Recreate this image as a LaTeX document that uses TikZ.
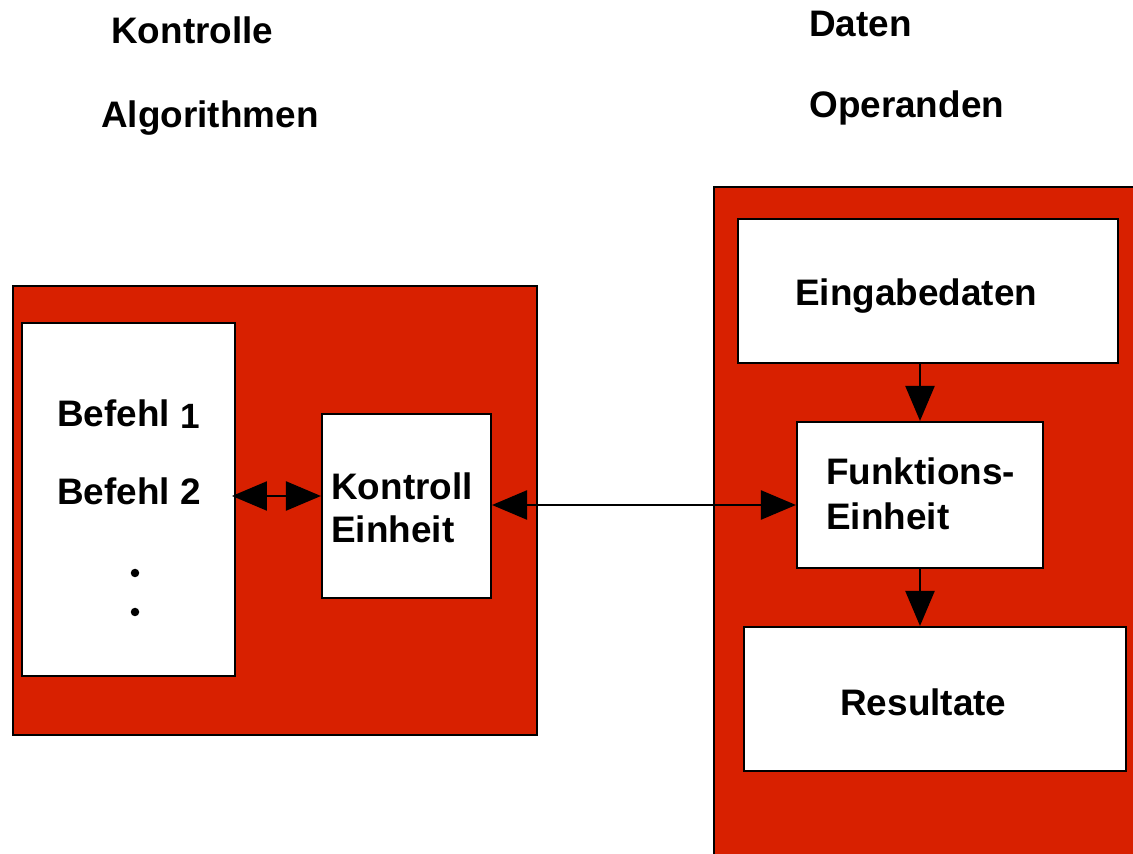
\documentclass[tikz,border=0pt]{standalone}
\usepackage{fontspec}
\setmainfont{Liberation Sans}
\usetikzlibrary{arrows.meta,positioning}
\definecolor{boxred}{RGB}{216,32,0}

\begin{document}
\begin{tikzpicture}[x=0.02cm,y=-0.02cm]
%pixel coordinates, y runs downward
\tikzstyle{frame}=[draw, line width=1.2pt, fill=boxred, inner sep=0pt]
\tikzstyle{box}=[draw, line width=1.2pt, fill=white, inner sep=0pt]
\tikzstyle{txt}=[anchor=base west, inner sep=0pt, font=\fontsize{21}{25}\selectfont\bfseries]
\tikzstyle{dot}=[circle, fill=black, inner sep=0pt, minimum size=0.17cm]
\tikzstyle{link}=[line width=1.3pt, -{Triangle[length=0.7cm,width=0.58cm]}]
\tikzstyle{dlink}=[line width=1.3pt, {Triangle[length=0.7cm,width=0.58cm]}-{Triangle[length=0.7cm,width=0.58cm]}]
\clip (0,0) rectangle (1133,854);
% headings
\node[txt](kontrolle) at (111,44) {Kontrolle};
\node[txt](algo) at (101,128) {Algorithmen};
\node[txt](daten) at (809,37) {Daten};
\node[txt](operanden) at (809,118) {Operanden};
% control side
\node[frame, minimum width=10.48cm, minimum height=8.98cm](prog) at (275,510.5) {};
\node[box, minimum width=4.26cm, minimum height=7.06cm](liste) at (128.5,499.5) {};
\node[box, minimum width=3.38cm, minimum height=3.68cm](kontroll) at (406.5,506) {};
\node[txt](befehl1) at (57,427) {Befehl {\fontsize{20}{22}\selectfont\raisebox{-1pt}{1}}};
\node[txt](befehl2) at (57,505) {Befehl 2};
\node[dot](dot1) at (135,573) {};
\node[dot](dot2) at (135,612) {};
\node[txt](kontroll1) at (331,500) {Kontroll};
\node[txt](kontroll2) at (331,543) {Einheit};
% data side
\node[frame, minimum width=8.92cm, minimum height=13.86cm](datenbox) at (937,533.5) {};
\node[box, minimum width=7.6cm, minimum height=2.88cm](eingabe) at (928,291) {};
\node[box, minimum width=4.92cm, minimum height=2.92cm](funk) at (920,495) {};
\node[box, minimum width=7.64cm, minimum height=2.88cm](result) at (935,699) {};
\node[txt](eingabetxt) at (795,306) {Eingabedaten};
\node[txt](funk1) at (826,485) {Funktions-};
\node[txt](funk2) at (826,530) {Einheit};
\node[txt](resulttxt) at (840,715) {Resultate};
% connections
\coordinate (b2) at (232,496);
\draw[dlink] (b2) -- (b2 -| kontroll.west);
\draw[dlink] ([yshift=0.02cm]kontroll.east) -- ([yshift=0.02cm]kontroll.east -| funk.west);
\draw[link] (funk.north |- eingabe.south) -- (funk.north);
\draw[link] (funk.south) -- (funk.south |- result.north);
\end{tikzpicture}
\end{document}
